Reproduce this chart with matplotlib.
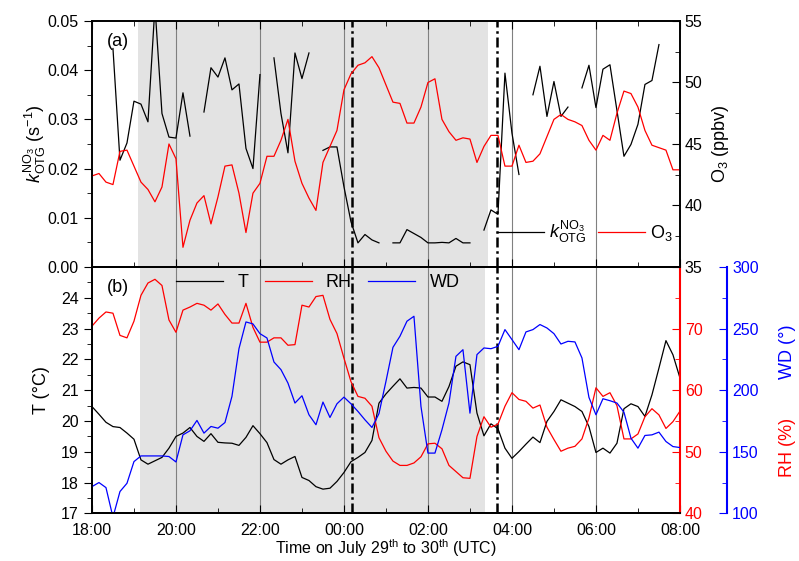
import numpy as np
import matplotlib
matplotlib.use('Agg')
import matplotlib.pyplot as plt
from matplotlib.ticker import MultipleLocator

plt.rcParams['font.family'] = ['Liberation Sans', 'DejaVu Sans']
plt.rcParams['mathtext.fontset'] = 'custom'
plt.rcParams['mathtext.rm'] = 'Liberation Sans'
plt.rcParams['mathtext.it'] = 'Liberation Sans:italic'
plt.rcParams['mathtext.bf'] = 'Liberation Sans:bold'

nan = np.nan

# ----------------------------------------------------------------
# Data: 10-min records from 18:00 (29 Jul) to 08:00 (30 Jul)
# ----------------------------------------------------------------
hours = np.arange(85) / 6.0          # hours after 18:00

k_otg = [nan, nan, nan, 0.0444, 0.0217, 0.0252, 0.0337, 0.0331, 0.0295, 0.0530,
         0.0312, 0.0264, 0.0262, 0.0354, 0.0266, nan, 0.0315, 0.0405, 0.0386, 0.0425,
         0.0360, 0.0372, 0.0241, 0.0200, 0.0391, nan, 0.0425, 0.0312, 0.0232, 0.0435,
         0.0383, 0.0435, nan, 0.0237, 0.0244, 0.0244, 0.0163, 0.0092, 0.0049, 0.0066,
         0.0055, 0.0049, nan, 0.0049, 0.0049, 0.0076, 0.0068, 0.0060, 0.0049, 0.0049,
         0.0050, 0.0049, 0.0058, 0.0049, 0.0049, nan, 0.0075, 0.0116, 0.0107, 0.0394,
         0.0272, 0.0188, nan, 0.0350, 0.0408, 0.0306, 0.0377, 0.0306, 0.0325, nan,
         0.0364, 0.0410, 0.0324, 0.0402, 0.0411, 0.0318, 0.0225, 0.0249, 0.0290, 0.0371,
         0.0379, 0.0452, nan, nan, nan]

o3 = [42.4, 42.6, 41.9, 41.7, 44.4, 44.5, 43.2, 41.9, 41.3, 40.3,
      41.5, 45.0, 43.8, 36.6, 38.8, 40.2, 40.8, 38.5, 40.7, 43.2,
      43.3, 41.0, 37.8, 41.0, 41.8, 44.0, 44.0, 45.3, 47.0, 43.6,
      41.8, 40.6, 39.6, 43.5, 44.8, 46.1, 49.4, 50.7, 51.4, 51.6,
      52.1, 51.2, 49.8, 48.4, 48.3, 46.7, 46.7, 48.0, 50.0, 50.3,
      47.0, 46.0, 45.3, 45.5, 45.4, 43.5, 44.8, 45.7, 45.7, 43.2,
      43.2, 44.9, 43.5, 43.6, 44.2, 45.6, 47.0, 47.4, 47.0, 46.8,
      46.5, 45.3, 44.5, 45.7, 45.3, 47.5, 49.3, 49.1, 48.0, 46.1,
      44.9, 44.7, 44.5, 42.9, 42.9]

temp = [20.47, 20.22, 19.96, 19.82, 19.79, 19.61, 19.41, 18.74, 18.60, 18.71,
        18.82, 19.12, 19.50, 19.61, 19.79, 19.50, 19.34, 19.59, 19.31, 19.29,
        19.28, 19.21, 19.47, 19.85, 19.59, 19.30, 18.75, 18.60, 18.74, 18.85,
        18.17, 18.07, 17.87, 17.79, 17.82, 18.04, 18.33, 18.68, 18.82, 18.98,
        19.37, 20.58, 20.88, 21.13, 21.37, 21.07, 21.09, 21.07, 20.78, 20.78,
        20.64, 21.12, 21.78, 21.92, 21.83, 20.26, 19.52, 19.91, 19.75, 19.12,
        18.79, 19.01, 19.25, 19.48, 19.30, 19.99, 20.31, 20.69, 20.58, 20.47,
        20.31, 19.82, 18.98, 19.12, 18.96, 19.28, 20.40, 20.56, 20.47, 20.15,
        20.85, 21.72, 22.61, 22.15, 21.40]

rh = [70.4, 71.7, 72.7, 72.5, 68.9, 68.5, 71.2, 75.4, 77.4, 78.0,
      77.0, 71.4, 69.4, 73.0, 73.5, 74.1, 73.8, 73.0, 74.0, 72.3,
      70.9, 70.9, 74.1, 70.2, 67.8, 67.8, 68.5, 68.5, 67.3, 67.4,
      73.8, 73.5, 75.2, 75.4, 71.5, 69.2, 65.2, 61.4, 59.0, 58.7,
      57.4, 52.3, 50.1, 48.5, 47.8, 47.8, 48.2, 49.2, 51.3, 51.4,
      50.5, 47.8, 46.8, 45.8, 45.7, 52.5, 55.7, 54.0, 54.5, 57.4,
      59.6, 58.5, 58.2, 57.1, 57.6, 54.0, 52.0, 50.1, 50.6, 50.9,
      52.1, 55.5, 60.4, 59.0, 59.6, 57.5, 52.1, 52.1, 52.9, 55.7,
      57.0, 56.0, 53.8, 54.9, 56.6]

wd = [121.8, 125.1, 121.0, 97.0, 117.8, 124.5, 142.1, 146.7, 146.7, 146.7,
      146.7, 146.2, 141.8, 163.8, 167.1, 175.5, 165.2, 170.6, 169.2, 173.8,
      195.0, 233.7, 255.4, 253.8, 245.9, 242.4, 222.9, 216.7, 205.8, 189.6,
      195.5, 180.1, 172.0, 190.4, 177.9, 189.0, 194.4, 189.0, 182.8, 176.0,
      169.8, 181.0, 207.2, 234.8, 243.8, 256.0, 260.0, 186.9, 149.0, 149.0,
      167.9, 189.6, 227.5, 232.9, 181.4, 228.9, 234.3, 233.7, 235.6, 249.2,
      241.1, 232.9, 247.3, 249.2, 253.3, 250.5, 245.9, 237.5, 239.7, 239.2,
      226.2, 194.2, 180.1, 193.1, 191.5, 189.6, 182.2, 161.1, 153.0, 163.3,
      163.8, 166.0, 158.4, 154.3, 153.5]

xtick_pos = [0, 2, 4, 6, 8, 10, 12, 14]
xtick_labels = ['18:00', '20:00', '22:00', '00:00', '02:00', '04:00', '06:00', '08:00']
night_a = (1.10, 9.43)      # shaded period, panel (a)
night_b = (1.155, 9.37)     # shaded period, panel (b)
event_times = [6.18, 9.65]  # dash-dot markers

shade = '#e3e3e3'
fs_tick = 11.5
fs_lab = 13

fig = plt.figure(figsize=(7.99, 5.61), dpi=100)
ax_a = fig.add_axes([0.1151, 0.5241, 0.7359, 0.4385])
ax_b = fig.add_axes([0.1151, 0.0847, 0.7359, 0.4394])

# ================================================================
# Panel (a)
# ================================================================
ax_a.axvspan(*night_a, color=shade, lw=0, zorder=0)
ax_o3 = ax_a.twinx()
for xv in xtick_pos[1:-1]:
    ax_a.axvline(xv, color='gray', lw=0.8, zorder=1)
for xe in event_times:
    ax_a.axvline(xe, color='k', lw=1.8, ls=(0, (4, 1.5, 1, 1.5)), zorder=6)

l_k, = ax_a.plot(hours, k_otg, 'k-', lw=0.9, zorder=4)
l_o3, = ax_o3.plot(hours, o3, 'r-', lw=0.9)

ax_a.set_xlim(0, 14)
ax_a.set_ylim(0, 0.05)
ax_a.set_yticks(np.arange(0, 0.051, 0.01))
ax_a.yaxis.set_minor_locator(MultipleLocator(0.005))
ax_a.set_xticks(xtick_pos)
ax_a.xaxis.set_minor_locator(MultipleLocator(1))
ax_a.tick_params(axis='x', which='both', direction='in', top=True, labelbottom=False)
ax_a.tick_params(axis='x', which='major', length=6)
ax_a.tick_params(axis='x', which='minor', length=3.5)
ax_a.tick_params(axis='y', which='major', direction='out', length=6, labelsize=fs_tick)
ax_a.tick_params(axis='y', which='minor', direction='out', length=3.5)
ax_a.set_ylabel(r'$k_{\mathrm{OTG}}^{\mathrm{NO_3}}$ (s$^{-1}$)', fontsize=fs_lab, labelpad=0)

ax_o3.set_ylim(35, 55)
ax_o3.set_yticks([35, 40, 45, 50, 55])
ax_o3.yaxis.set_minor_locator(MultipleLocator(2.5))
ax_o3.tick_params(axis='y', which='major', direction='in', length=6, labelsize=fs_tick)
ax_o3.tick_params(axis='y', which='minor', direction='in', length=3.5)
ax_o3.set_ylabel(r'O$_3$ (ppbv)', fontsize=fs_lab, labelpad=5)
for ax in (ax_a, ax_o3):
    for sp in ax.spines.values():
        sp.set_linewidth(1.2)

ax_a.text(0.025, 0.95, '(a)', transform=ax_a.transAxes, fontsize=fs_lab, va='top')
ax_o3.legend([l_k, l_o3], [r'$k_{\mathrm{OTG}}^{\mathrm{NO_3}}$', r'O$_3$'],
             loc='center left', bbox_to_anchor=(0.689, 0.142), ncol=2,
             frameon=False, fontsize=fs_lab, handlelength=2.6, handletextpad=0.3,
             columnspacing=0.6, borderpad=0, borderaxespad=0)

# ================================================================
# Panel (b)
# ================================================================
ax_b.axvspan(*night_b, color=shade, lw=0, zorder=0)
ax_rh = ax_b.twinx()
ax_wd = ax_b.twinx()
ax_wd.spines['right'].set_position(('outward', 34))
for xv in xtick_pos[1:-1]:
    ax_b.axvline(xv, color='gray', lw=0.8, zorder=1)
for xe in event_times:
    ax_b.axvline(xe, color='k', lw=1.8, ls=(0, (4, 1.5, 1, 1.5)), zorder=6)

l_t, = ax_b.plot(hours, temp, 'k-', lw=0.9, zorder=4)
l_rh, = ax_rh.plot(hours, rh, 'r-', lw=0.9)
l_wd, = ax_wd.plot(hours, wd, 'b-', lw=0.9)

ax_b.set_xlim(0, 14)
ax_b.set_ylim(17, 25)
ax_b.set_yticks(range(17, 25))
ax_b.yaxis.set_minor_locator(MultipleLocator(0.5))
ax_b.set_xticks(xtick_pos)
ax_b.set_xticklabels(xtick_labels)
ax_b.xaxis.set_minor_locator(MultipleLocator(1))
ax_b.tick_params(axis='x', which='both', direction='in', top=False, labelsize=fs_tick, pad=7)
ax_b.tick_params(axis='x', which='major', length=6)
ax_b.tick_params(axis='x', which='minor', length=3.5)
ax_b.tick_params(axis='y', which='major', direction='out', length=6, labelsize=fs_tick)
ax_b.tick_params(axis='y', which='minor', direction='out', length=3.5)
ax_b.set_ylabel('T (°C)', fontsize=fs_lab, labelpad=8)
ax_b.set_xlabel(r'Time on July 29$^{\mathrm{th}}$ to 30$^{\mathrm{th}}$ (UTC)',
                fontsize=fs_tick, labelpad=-1)

ax_rh.set_ylim(40, 80)
ax_rh.set_yticks([40, 50, 60, 70])
ax_rh.yaxis.set_minor_locator(MultipleLocator(5))
ax_rh.tick_params(axis='y', which='major', direction='in', length=6, labelsize=fs_tick,
                  colors='red')
ax_rh.tick_params(axis='y', which='minor', direction='in', length=3.5, colors='red')
ax_rh.spines['right'].set_color('red')

ax_wd.set_ylim(100, 300)
ax_wd.set_yticks([100, 150, 200, 250, 300])
ax_wd.yaxis.set_minor_locator(MultipleLocator(25))
ax_wd.tick_params(axis='y', which='major', direction='in', length=6, labelsize=fs_tick,
                  colors='blue')
ax_wd.tick_params(axis='y', which='minor', direction='in', length=3.5, colors='blue')
ax_wd.spines['right'].set_color('blue')
for ax in (ax_b, ax_rh, ax_wd):
    for sp in ax.spines.values():
        sp.set_linewidth(1.2)
ax_rh.spines['right'].set_linewidth(1.5)
ax_wd.spines['right'].set_linewidth(1.5)

fig.text(787 / 799, 1 - 447 / 561, 'RH (%)', color='red', rotation=90,
         fontsize=fs_lab, ha='center', va='center')
fig.text(787 / 799, 1 - 352 / 561, 'WD (°)', color='blue', rotation=90,
         fontsize=fs_lab, ha='center', va='center')

ax_b.text(0.025, 0.95, '(b)', transform=ax_b.transAxes, fontsize=fs_lab, va='top')
ax_wd.legend([l_t, l_rh, l_wd], ['T', 'RH', 'WD'], loc='center left',
             bbox_to_anchor=(0.143, 0.937), ncol=3, frameon=False, fontsize=fs_lab,
             handlelength=2.6, handletextpad=0.8, columnspacing=0.9,
             borderpad=0, borderaxespad=0)

plt.savefig('out.png', dpi=100)
plt.close()
